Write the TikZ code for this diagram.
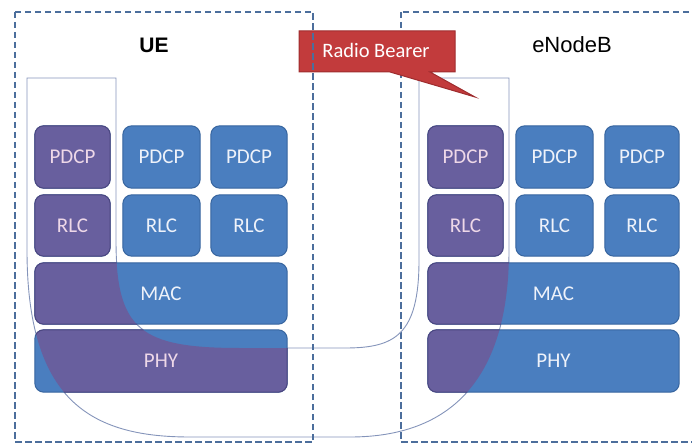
\documentclass[tikz,border=0pt]{standalone}
\usepackage{fontspec}
\setmainfont{Carlito}
\newfontfamily\arialfont{Liberation Sans}
\usetikzlibrary{backgrounds}
\definecolor{blk}{HTML}{4A7EBF}
\definecolor{blkline}{HTML}{36649E}
\definecolor{prp}{HTML}{685F9E}
\definecolor{prpline}{HTML}{4C4680}
\definecolor{dashcol}{HTML}{4C6E9C}
\definecolor{tubeline}{HTML}{8494BA}
\definecolor{pinktext}{HTML}{EED8E8}
\definecolor{whitetext}{HTML}{EEF2FA}
\definecolor{bearer}{HTML}{C23B3C}
\definecolor{bearerline}{HTML}{9E2C2E}
\begin{document}
\begin{tikzpicture}[x=1pt,y=-1pt,
  lbl/.style={inner sep=0pt, font=\fontsize{21}{23}\selectfont, text=whitetext},
  inlbl/.style={lbl, text=pinktext},
  boxline/.style={draw=dashcol, line width=1.8pt, dash pattern=on 6.5pt off 3.5pt},
  blockfill/.style={fill=blk, draw=blkline, line width=1pt, rounded corners=9pt},
  prpfill/.style={fill=prp, draw=prpline, line width=1pt, rounded corners=9pt},
  titletext/.style={font=\arialfont\fontsize{22}{24}\selectfont, text=black, inner sep=0pt}]
\useasboundingbox (0,0) rectangle (692,446);
\def\tubepath{(27,78) -- (116,78) -- (116,240) .. controls (116,330) and (140,348) .. (240,348) -- (345,348) .. controls (395,348) and (419,335) .. (419,260) -- (419,78) -- (509,78) -- (509,250) .. controls (509,380) and (450,437) .. (350,437) -- (190,437) .. controls (90,437) and (27,400) .. (27,250) -- cycle}
% labels
\node[titletext, font=\arialfont\bfseries\fontsize{21}{23}\selectfont] (ue) at (154,45) {UE};
\node[titletext] (enb) at (572,45) {eNodeB};
% UE blocks
\node[inlbl, minimum width=75pt, minimum height=62pt] (up1) at (72.5,157) {PDCP};
\node[lbl, minimum width=77pt, minimum height=62pt] (up2) at (161.5,157) {PDCP};
\node[lbl, minimum width=76pt, minimum height=62pt] (up3) at (249,157) {PDCP};
\node[inlbl, minimum width=75pt, minimum height=61pt] (ur1) at (72.5,225.5) {RLC};
\node[lbl, minimum width=77pt, minimum height=61pt] (ur2) at (161.5,225.5) {RLC};
\node[lbl, minimum width=76pt, minimum height=61pt] (ur3) at (249,225.5) {RLC};
\node[lbl, minimum width=252pt, minimum height=61pt] (umac) at (161,293.5) {MAC};
\node[inlbl, minimum width=252pt, minimum height=62pt] (uphy) at (161,361) {PHY};
% eNodeB blocks
\node[inlbl, minimum width=75pt, minimum height=62pt] (ep1) at (465.5,157) {PDCP};
\node[lbl, minimum width=77pt, minimum height=62pt] (ep2) at (554.5,157) {PDCP};
\node[lbl, minimum width=74pt, minimum height=62pt] (ep3) at (642,157) {PDCP};
\node[inlbl, minimum width=75pt, minimum height=61pt] (er1) at (465.5,225.5) {RLC};
\node[lbl, minimum width=77pt, minimum height=61pt] (er2) at (554.5,225.5) {RLC};
\node[lbl, minimum width=74pt, minimum height=61pt] (er3) at (642,225.5) {RLC};
\node[lbl, minimum width=251pt, minimum height=61pt] (emac) at (553.5,293.5) {MAC};
\node[lbl, minimum width=251pt, minimum height=62pt] (ephy) at (553.5,361) {PHY};
% callout text
\node[inner sep=0pt, font=\fontsize{20.5}{22}\selectfont, text=white] (rb) at (376,50) {Radio Bearer};
\begin{scope}[on background layer]
  \draw[boxline] (401,12) rectangle (700,442);
  \draw[tubeline, line width=0.9pt] \tubepath;
  \foreach \n in {up1,up2,up3,ur1,ur2,ur3,umac,uphy,ep1,ep2,ep3,er1,er2,er3,emac,ephy}
    \path[blockfill] (\n.north west) rectangle (\n.south east);
  \begin{scope}
    \clip \tubepath;
    \foreach \n in {up1,up2,up3,ur1,ur2,ur3,umac,uphy,ep1,ep2,ep3,er1,er2,er3,emac,ephy}
      \path[prpfill] (\n.north west) rectangle (\n.south east);
  \end{scope}
  \path[fill=bearer, draw=bearerline, line width=1pt] (299,31) -- (455,31) -- (455,72) -- (430,72) -- (475,97) -- (390,72) -- (299,72) -- cycle;
  \draw[boxline] (15,12) rectangle (313,442);
\end{scope}
\end{tikzpicture}
\end{document}
